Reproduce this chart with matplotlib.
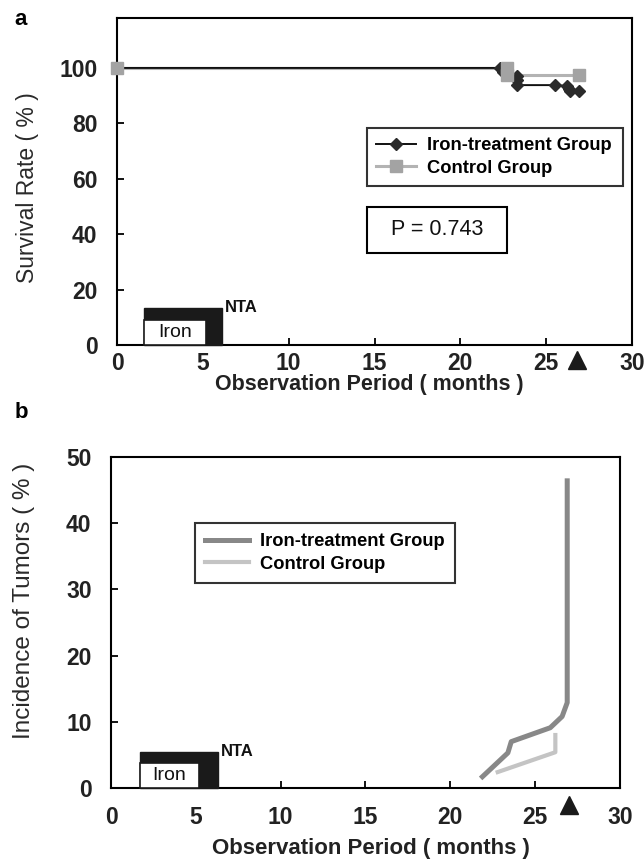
import matplotlib
matplotlib.use('Agg')
import matplotlib.pyplot as plt
from matplotlib.patches import Rectangle
from matplotlib.lines import Line2D

plt.rcParams['font.family'] = ['Liberation Sans', 'DejaVu Sans']

# ---------------- data ----------------
# panel a : survival (Kaplan-Meier like)
iron_t = [0, 22.3, 22.5, 23.3, 23.3, 23.3, 25.5, 26.2, 26.3, 26.4, 26.9]
iron_s = [100, 100, 98.5, 97.0, 95.5, 93.8, 93.8, 93.5, 92.5, 91.8, 91.5]
ctrl_t = [0, 22.7, 22.7, 26.9]
ctrl_s = [100, 100, 97.5, 97.5]

# panel b : incidence of tumors
inc_iron_t = [21.9, 23.4, 23.6, 25.9, 26.6, 26.9, 26.9]
inc_iron_y = [1.7, 5.3, 7.0, 9.1, 10.8, 12.9, 46.4]
inc_ctrl_t = [22.8, 26.2, 26.2]
inc_ctrl_y = [2.4, 5.4, 8.0]

xticks = [0, 5, 10, 15, 20, 25, 30]
yticks_a = [0, 20, 40, 60, 80, 100]
yticks_b = [0, 10, 20, 30, 40, 50]
end_month = 26.8

IRON_LINE = '#111111'
CTRL_A = '#a3a3a3'
INC_IRON = '#888888'
INC_CTRL = '#c4c4c4'


def style_axes(ax):
    for s in ax.spines.values():
        s.set_linewidth(1.5)
        s.set_color('black')
    ax.tick_params(direction='in', length=5, width=1.3, labelsize=16.5)
    ax.tick_params(axis='y', pad=14)
    ax.tick_params(axis='x', pad=5)
    for lab in ax.get_xticklabels() + ax.get_yticklabels():
        lab.set_fontweight('bold')
        lab.set_color('#222222')


def nta_box(ax, x0, x1, xin, top, intop):
    ax.add_patch(Rectangle((x0, 0), x1 - x0, top, facecolor='#1a1a1a',
                           edgecolor='#1a1a1a', zorder=3, clip_on=False))
    ax.add_patch(Rectangle((x0, 0), xin - x0, intop, facecolor='white',
                           edgecolor='#1a1a1a', lw=1.2, zorder=4, clip_on=False))
    ax.text((x0 + xin) / 2, intop / 2, 'Iron', fontsize=14, ha='center',
            va='center', zorder=5, color='#111111')
    ax.text(x1 + 0.2, top, 'NTA', fontsize=12, fontweight='bold',
            ha='left', va='center', zorder=5, color='#111111')


fig = plt.figure(figsize=(6.44, 8.68), dpi=100)

# ================= panel a =================
ax1 = fig.add_axes([0.1817, 0.6025, 0.7997, 0.3767])
ax1.plot(ctrl_t, ctrl_s, color='#b3b3b3', lw=2.2, zorder=3)
ax1.plot(iron_t, iron_s, color=IRON_LINE, lw=1.4, marker='D', ms=6.5,
         mfc='#2a2a2a', mec='#2a2a2a', zorder=4)
ax1.plot(ctrl_t, ctrl_s, ls='none', marker='s', ms=9, mfc=CTRL_A, mec=CTRL_A,
         zorder=5, clip_on=False)
ax1.set_xlim(0, 30)
ax1.set_ylim(0, 118)
ax1.set_xticks(xticks)
ax1.set_yticks(yticks_a)
style_axes(ax1)
ax1.set_xlabel('Observation Period ( months )', fontsize=15.5, fontweight='bold',
               color='#222222')
ax1.xaxis.set_label_coords(0.49, -0.088)
ax1.set_ylabel('Survival Rate ( % )', fontsize=16.5, color='#2a2a2a')
ax1.yaxis.set_label_coords(-0.152, 0.48)
handles = [Line2D([], [], color=IRON_LINE, lw=1.4, marker='D', ms=6.5,
                  mfc='#2a2a2a', mec='#2a2a2a'),
           Line2D([], [], color='#b3b3b3', lw=2.2, marker='s', ms=9,
                  mfc=CTRL_A, mec=CTRL_A)]
leg = ax1.legend(handles, ['Iron-treatment Group', 'Control Group'],
                 loc='upper left', bbox_to_anchor=(0.485, 0.664, 0.498, 0.0),
                 mode='expand', borderaxespad=0, frameon=True, fancybox=False,
                 edgecolor='black', prop={'size': 13.2, 'weight': 'bold'},
                 handlelength=2.2, borderpad=0.5, labelspacing=0.3,
                 handletextpad=0.6)
leg.get_frame().set_linewidth(1.5)
ax1.add_patch(Rectangle((0.485, 0.281), 0.272, 0.141, transform=ax1.transAxes,
                        facecolor='white', edgecolor='black', lw=1.5, zorder=6))
ax1.text(0.621, 0.352, 'P = 0.743', transform=ax1.transAxes, fontsize=15.5,
         ha='center', va='center', color='#111111', zorder=7)
nta_box(ax1, 1.6, 6.1, 5.2, 13.5, 9.0)
ax1.plot([end_month], [-5.5], marker='^', ms=13, color='#1a1a1a',
         clip_on=False, zorder=6)
fig.text(0.022, 0.977, 'a', fontsize=16, fontweight='bold', va='center')

# ================= panel b =================
ax2 = fig.add_axes([0.1724, 0.0922, 0.790, 0.3813])
ax2.plot(inc_iron_t, inc_iron_y, color=INC_IRON, lw=3.6,
         label='Iron-treatment Group', solid_joinstyle='round')
ax2.plot(inc_ctrl_t, inc_ctrl_y, color=INC_CTRL, lw=3.0,
         label='Control Group', solid_joinstyle='round')
ax2.set_xlim(0, 30)
ax2.set_ylim(0, 50)
ax2.set_xticks(xticks)
ax2.set_yticks(yticks_b)
style_axes(ax2)
ax2.tick_params(axis='x', pad=13)
ax2.set_xlabel('Observation Period ( months )', fontsize=16, fontweight='bold',
               color='#222222')
ax2.xaxis.set_label_coords(0.51, -0.152)
ax2.set_ylabel('Incidence of Tumors ( % )', fontsize=17.5, color='#2a2a2a')
ax2.yaxis.set_label_coords(-0.149, 0.565)
leg2 = ax2.legend(loc='upper left', bbox_to_anchor=(0.165, 0.80, 0.511, 0.0),
                  mode='expand', borderaxespad=0, frameon=True, fancybox=False,
                  edgecolor='black', prop={'size': 13.2, 'weight': 'bold'},
                  handlelength=2.4, borderpad=0.55, labelspacing=0.3,
                  handletextpad=0.6)
leg2.get_frame().set_linewidth(1.5)
nta_box(ax2, 1.7, 6.3, 5.2, 5.5, 3.8)
ax2.plot([27.0], [-2.6], marker='^', ms=13, color='#1a1a1a',
         clip_on=False, zorder=6)
fig.text(0.022, 0.525, 'b', fontsize=16, fontweight='bold', va='center')

plt.savefig('out.png', dpi=100)
plt.close()
